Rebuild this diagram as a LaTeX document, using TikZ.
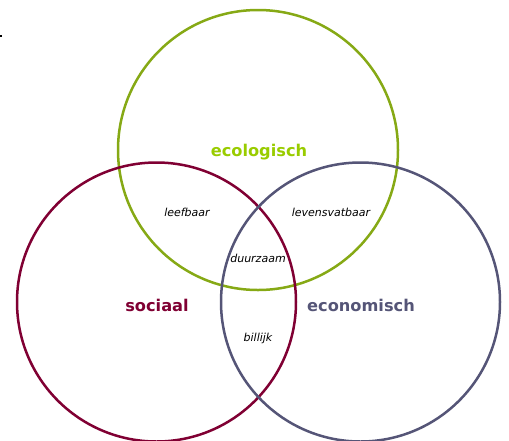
\documentclass[tikz,border=0pt]{standalone}
\usepackage{fontspec}
\setmainfont{DejaVu Sans}
\definecolor{ecoG}{HTML}{86A915}
\definecolor{ecoT}{HTML}{99CC00}
\definecolor{socR}{HTML}{800033}
\definecolor{ecnB}{HTML}{555577}
\begin{document}
\begin{tikzpicture}[x=1pt,y=-1pt,
  ring/.style={line width=2.5pt},
  big/.style={font=\fontsize{16.2}{18}\selectfont\bfseries, inner sep=0pt},
  small/.style={font=\fontsize{11}{13}\selectfont\itshape, inner sep=0pt}]
\useasboundingbox (0,0) rectangle (509,440);
\begin{scope}
\clip (0,0) rectangle (509,440);
\draw[ring, ecoG] (258,150) circle[radius=140];
\draw[ring, socR] (156.5,302) circle[radius=139.5];
\draw[ring, ecnB] (360.5,302) circle[radius=139.5];
\end{scope}
\fill (0,35) rectangle (1.5,36.5);
\node[big, text=ecoT] (eco) at (259,152) {ecologisch};
\node[big, text=socR] (soc) at (157,305) {sociaal};
\node[big, text=ecnB] (ecn) at (361,305) {economisch};
\node[small] (leef) at (187,212) {leefbaar};
\node[small] (lev) at (331,212) {levensvatbaar};
\node[small] (duur) at (258,258) {duurzaam};
\node[small] (bil) at (258,338) {billijk};
\end{tikzpicture}
\end{document}
